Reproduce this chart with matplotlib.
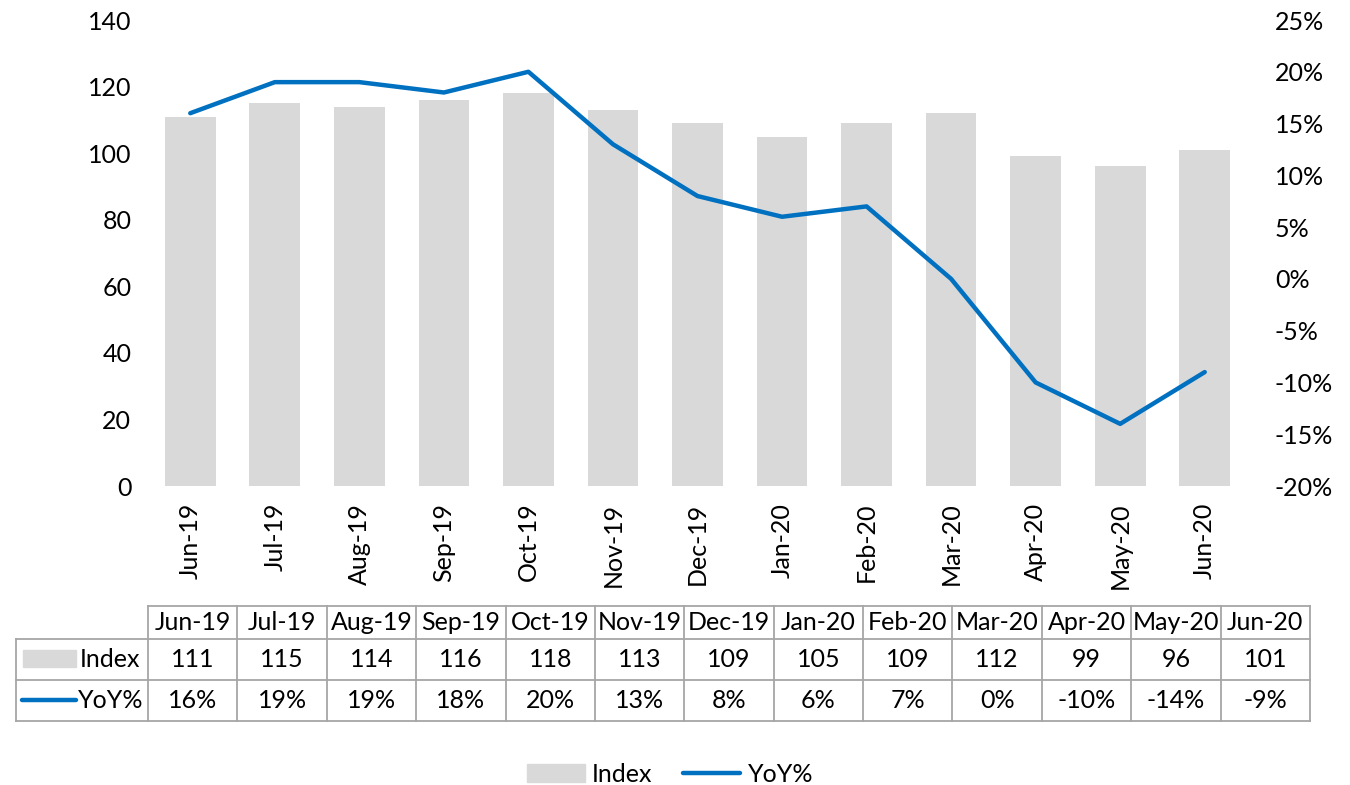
import matplotlib
matplotlib.use("Agg")
import matplotlib.pyplot as plt
from matplotlib.patches import Rectangle
from matplotlib.lines import Line2D
from matplotlib.ticker import FuncFormatter

plt.rcParams['font.family'] = ['Lato', 'DejaVu Sans']

months = ['Jun-19', 'Jul-19', 'Aug-19', 'Sep-19', 'Oct-19', 'Nov-19', 'Dec-19',
          'Jan-20', 'Feb-20', 'Mar-20', 'Apr-20', 'May-20', 'Jun-20']
index_vals = [111, 115, 114, 116, 118, 113, 109, 105, 109, 112, 99, 96, 101]
yoy_vals = [16, 19, 19, 18, 20, 13, 8, 6, 7, 0, -10, -14, -9]

GRAY = '#d9d9d9'
BLUE = '#0070c0'
W, H = 1350, 785
FS = 18

fig = plt.figure(figsize=(W / 100, H / 100), dpi=100)

def px_axes(x0, y0, x1, y1):
    # pixel box (top-left origin) -> figure axes
    return fig.add_axes([x0 / W, 1 - y1 / H, (x1 - x0) / W, (y1 - y0) / H])

ax = px_axes(148, 20, 1247, 486)
x = list(range(len(months)))
ax.bar(x, index_vals, width=0.6, color=GRAY, zorder=1)
ax.set_xlim(-0.5, len(months) - 0.5)
ax.set_ylim(0, 140)
ax.set_yticks(range(0, 141, 20))
ax.set_xticks(x)
ax.set_xticklabels(months, rotation=90, fontsize=FS)
ax.tick_params(axis='both', length=0, labelsize=FS)
ax.tick_params(axis='y', pad=12)
ax.tick_params(axis='x', pad=12)
for s in ax.spines.values():
    s.set_visible(False)

ax2 = ax.twinx()
ax2.plot(x, yoy_vals, color=BLUE, lw=3.2, solid_capstyle='round', zorder=3)
ax2.set_ylim(-20, 25)
ax2.set_yticks(range(-20, 26, 5))
ax2.yaxis.set_major_formatter(FuncFormatter(lambda v, p: f'{int(v)}%'))
ax2.tick_params(axis='y', length=0, labelsize=FS, pad=20)
for s in ax2.spines.values():
    s.set_visible(False)

# data table
tx0, tx1 = 16, 1310
cx0 = 148
ty = [606, 639, 680, 721]
at = px_axes(tx0, ty[0], tx1, ty[-1])
at.set_xlim(tx0, tx1)
at.set_ylim(ty[-1], ty[0])
at.axis('off')
cw = (tx1 - cx0) / len(months)
lc = '#a6a6a6'
lw = 1.3
# horizontal lines
at.plot([cx0, tx1], [ty[0], ty[0]], color=lc, lw=lw, clip_on=False)
for yy in ty[1:]:
    at.plot([tx0, tx1], [yy, yy], color=lc, lw=lw, clip_on=False)
# vertical lines
at.plot([tx0, tx0], [ty[1], ty[3]], color=lc, lw=lw, clip_on=False)
for i in range(len(months) + 1):
    xx = cx0 + i * cw
    at.plot([xx, xx], [ty[0], ty[3]], color=lc, lw=lw, clip_on=False)
for i, m in enumerate(months):
    xc = cx0 + (i + 0.5) * cw
    at.text(xc, (ty[0] + ty[1]) / 2, m, ha='center', va='center', fontsize=FS)
    at.text(xc, (ty[1] + ty[2]) / 2, str(index_vals[i]), ha='center', va='center', fontsize=FS)
    at.text(xc, (ty[2] + ty[3]) / 2, f'{yoy_vals[i]}%', ha='center', va='center', fontsize=FS)
at.add_patch(Rectangle((23, 650), 53, 17, color=GRAY, clip_on=False))
at.text(80, (ty[1] + ty[2]) / 2, 'Index', ha='left', va='center', fontsize=FS)
at.plot([22, 76], [700, 700], color=BLUE, lw=3.2, solid_capstyle='round', clip_on=False)
at.text(78, (ty[2] + ty[3]) / 2, 'YoY%', ha='left', va='center', fontsize=FS)

# bottom legend
handles = [Rectangle((0, 0), 1, 1, color=GRAY),
           Line2D([0], [0], color=BLUE, lw=3.2, solid_capstyle='round')]
fig.legend(handles, ['Index', 'YoY%'], loc='center', bbox_to_anchor=(670 / W, 1 - 774 / H),
           ncol=2, frameon=False, fontsize=FS, handlelength=2.3, handletextpad=0.3,
           columnspacing=1.2)

fig.savefig('out.png', dpi=100)
